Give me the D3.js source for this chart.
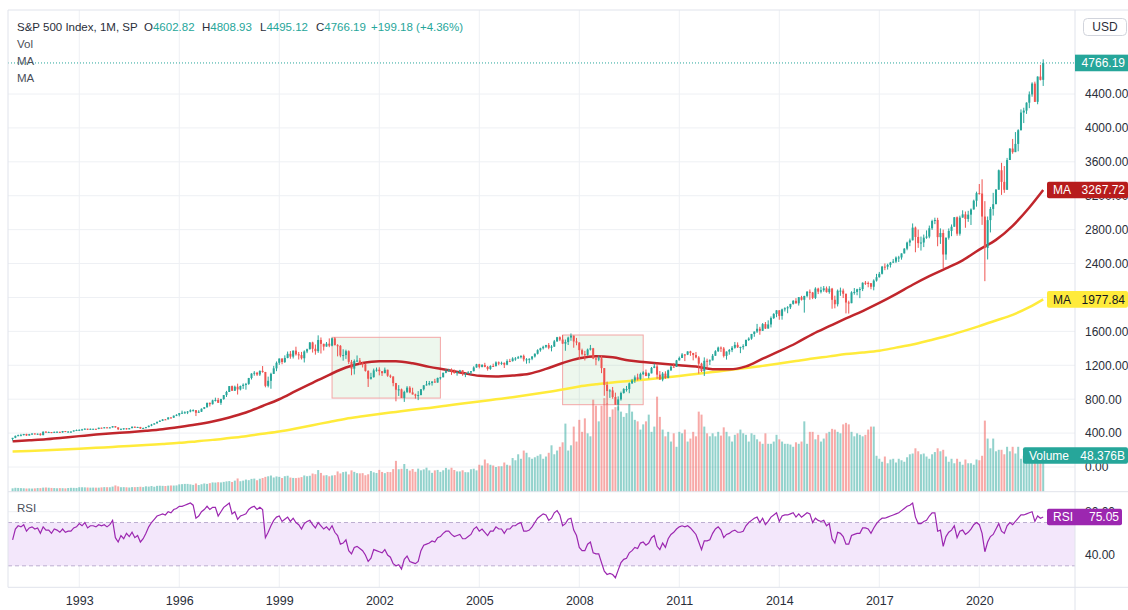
<!DOCTYPE html>
<html>
<head>
<meta charset="utf-8">
<script src="https://cdn.jsdelivr.net/npm/d3@7"></script>
<style>
  body { margin: 0; background: #fff; }
  svg { display: block; font-family: "Liberation Sans", Arial, sans-serif; }
</style>
</head>
<body>
<div id="root"></div>
<script>
// monthly S&P 500 candles, Jan 1991 .. Dec 2021 (open = previous close)
const startYear = 1991;
const firstOpen = 330.22;

const closes = [
  343.93, 367.07, 375.22, 375.34, 389.83, 371.16, 387.81, 395.43, 387.86, 392.46, 375.22, 417.09,
  408.79, 412.70, 403.69, 414.95, 415.35, 408.14, 424.21, 414.03, 417.80, 418.68, 431.35, 435.71,
  438.78, 443.38, 451.67, 440.19, 450.19, 450.53, 448.13, 463.56, 458.93, 467.83, 461.79, 466.45,
  481.61, 467.14, 445.77, 450.91, 456.50, 444.27, 458.26, 475.49, 462.69, 472.35, 453.69, 459.27,
  470.42, 487.39, 500.71, 514.71, 533.40, 544.75, 562.06, 561.88, 584.41, 581.50, 605.37, 615.93,
  636.02, 640.43, 645.50, 654.17, 669.12, 670.63, 639.95, 651.99, 687.31, 705.27, 757.02, 740.74,
  786.16, 790.82, 757.12, 801.34, 848.28, 885.14, 954.29, 899.47, 947.28, 914.62, 955.40, 970.43,
  980.28, 1049.34, 1101.75, 1111.75, 1090.82, 1133.84, 1120.67, 957.28, 1017.01, 1098.67, 1163.63, 1229.23,
  1279.64, 1238.33, 1286.37, 1335.18, 1301.84, 1372.71, 1328.72, 1320.41, 1282.71, 1362.93, 1388.91, 1469.25,
  1394.46, 1366.42, 1498.58, 1452.43, 1420.60, 1454.60, 1430.83, 1517.68, 1436.51, 1429.40, 1314.95, 1320.28,
  1366.01, 1239.94, 1160.33, 1249.46, 1255.82, 1224.42, 1211.23, 1133.58, 1040.94, 1059.78, 1139.45, 1148.08,
  1130.20, 1106.73, 1147.39, 1076.92, 1067.14, 989.82, 911.62, 916.07, 815.28, 885.76, 936.31, 879.82,
  855.70, 841.15, 848.18, 916.92, 963.59, 974.50, 990.31, 1008.01, 995.97, 1050.71, 1058.20, 1111.92,
  1131.13, 1144.94, 1126.21, 1107.30, 1120.68, 1140.84, 1101.72, 1104.24, 1114.58, 1130.20, 1173.82, 1211.92,
  1181.27, 1203.60, 1180.59, 1156.85, 1191.50, 1191.33, 1234.18, 1220.33, 1228.81, 1207.01, 1249.48, 1248.29,
  1280.08, 1280.66, 1294.83, 1310.61, 1270.09, 1270.20, 1276.66, 1303.82, 1335.85, 1377.94, 1400.63, 1418.30,
  1438.24, 1406.82, 1420.86, 1482.37, 1530.62, 1503.35, 1455.27, 1473.99, 1526.75, 1549.38, 1481.14, 1468.36,
  1378.55, 1330.63, 1322.70, 1385.59, 1400.38, 1280.00, 1267.38, 1282.83, 1166.36, 968.75, 896.24, 903.25,
  825.88, 735.09, 797.87, 872.81, 919.14, 919.32, 987.48, 1020.62, 1057.08, 1036.19, 1095.63, 1115.10,
  1073.87, 1104.49, 1169.43, 1186.69, 1089.41, 1030.71, 1101.60, 1049.33, 1141.20, 1183.26, 1180.55, 1257.64,
  1286.12, 1327.22, 1325.83, 1363.61, 1345.20, 1320.64, 1292.28, 1218.89, 1131.42, 1253.30, 1246.96, 1257.60,
  1312.41, 1365.68, 1408.47, 1397.91, 1310.33, 1362.16, 1379.32, 1406.58, 1440.67, 1412.16, 1416.18, 1426.19,
  1498.11, 1514.68, 1569.19, 1597.57, 1630.74, 1606.28, 1685.73, 1632.97, 1681.55, 1756.54, 1805.81, 1848.36,
  1782.59, 1859.45, 1872.34, 1883.95, 1923.57, 1960.23, 1930.67, 2003.37, 1972.29, 2018.05, 2067.56, 2058.90,
  1994.99, 2104.50, 2067.89, 2085.51, 2107.39, 2063.11, 2103.84, 1972.18, 1920.03, 2079.36, 2080.41, 2043.94,
  1940.24, 1932.23, 2059.74, 2065.30, 2096.95, 2098.86, 2173.60, 2170.95, 2168.27, 2126.15, 2198.81, 2238.83,
  2278.87, 2363.64, 2362.72, 2384.20, 2411.80, 2423.41, 2470.30, 2471.65, 2519.36, 2575.26, 2647.58, 2673.61,
  2823.81, 2713.83, 2640.87, 2648.05, 2705.27, 2718.37, 2816.29, 2901.52, 2913.98, 2711.74, 2760.17, 2506.85,
  2704.10, 2784.49, 2834.40, 2945.83, 2752.06, 2941.76, 2980.38, 2926.46, 2976.74, 3037.56, 3140.98, 3230.78,
  3225.52, 2954.22, 2584.59, 2912.43, 3044.31, 3100.29, 3271.12, 3500.31, 3363.00, 3269.96, 3621.63, 3756.07,
  3714.24, 3811.15, 3972.89, 4181.17, 4204.11, 4297.50, 4395.26, 4522.68, 4307.54, 4605.38, 4567.00, 4766.19
];

const highs = [
  344, 371, 382, 391, 390, 392, 391, 396, 397, 395, 398, 418,
  421, 418, 413, 417, 421, 416, 425, 425, 423, 419, 432, 442,
  443, 450, 456, 452, 454, 452, 451, 464, 464, 471, 469, 471,
  482, 482, 468, 452, 458, 459, 459, 477, 477, 474, 473, 465,
  473, 489, 508, 516, 534, 552, 564, 566, 587, 587, 607, 622,
  637, 665, 657, 660, 680, 680, 672, 670, 691, 707, 758, 761,
  794, 818, 815, 805, 849, 898, 955, 961, 960, 983, 961, 986,
  992, 1051, 1106, 1131, 1122, 1139, 1191, 1122, 1066, 1112, 1193, 1245,
  1280, 1281, 1317, 1362, 1368, 1375, 1419, 1357, 1358, 1376, 1396, 1474,
  1478, 1445, 1553, 1528, 1455, 1474, 1517, 1525, 1531, 1449, 1438, 1389,
  1384, 1376, 1263, 1269, 1316, 1286, 1239, 1218, 1141, 1111, 1161, 1173,
  1176, 1130, 1173, 1147, 1091, 1070, 992, 966, 925, 900, 954, 954,
  935, 865, 895, 919, 966, 1015, 1015, 1012, 1040, 1054, 1063, 1112,
  1155, 1159, 1163, 1150, 1127, 1146, 1141, 1109, 1131, 1132, 1188, 1217,
  1217, 1213, 1229, 1192, 1200, 1219, 1246, 1245, 1243, 1233, 1270, 1276,
  1295, 1297, 1310, 1318, 1326, 1284, 1282, 1307, 1340, 1389, 1407, 1431,
  1441, 1462, 1438, 1499, 1535, 1541, 1556, 1504, 1538, 1576, 1545, 1523,
  1471, 1396, 1370, 1397, 1440, 1405, 1292, 1314, 1313, 1167, 1008, 918,
  944, 877, 833, 889, 930, 956, 997, 1039, 1080, 1101, 1113, 1130,
  1150, 1113, 1180, 1220, 1219, 1132, 1120, 1129, 1149, 1196, 1227, 1263,
  1303, 1344, 1333, 1364, 1371, 1346, 1357, 1308, 1230, 1293, 1278, 1270,
  1333, 1378, 1420, 1422, 1415, 1363, 1392, 1427, 1475, 1470, 1419, 1448,
  1504, 1530, 1570, 1598, 1688, 1654, 1698, 1710, 1730, 1776, 1814, 1849,
  1850, 1868, 1884, 1897, 1925, 1968, 1992, 2005, 2019, 2019, 2075, 2094,
  2065, 2120, 2115, 2126, 2135, 2129, 2133, 2113, 2021, 2094, 2116, 2104,
  2038, 1962, 2073, 2111, 2103, 2121, 2178, 2194, 2188, 2169, 2214, 2278,
  2301, 2372, 2401, 2398, 2419, 2454, 2484, 2491, 2520, 2582, 2658, 2695,
  2873, 2836, 2801, 2718, 2742, 2791, 2848, 2917, 2941, 2940, 2815, 2800,
  2708, 2814, 2861, 2949, 2955, 2965, 3028, 3014, 3022, 3050, 3154, 3248,
  3338, 3394, 3136, 2955, 3068, 3234, 3279, 3509, 3588, 3550, 3646, 3761,
  3870, 3951, 3984, 4219, 4238, 4302, 4430, 4538, 4546, 4608, 4744, 4809
];

const lows = [
  312, 340, 363, 369, 373, 367, 371, 377, 383, 380, 371, 375,
  404, 406, 399, 401, 409, 401, 404, 412, 407, 402, 418, 427,
  426, 431, 440, 436, 438, 442, 441, 446, 455, 457, 458, 459,
  465, 464, 436, 435, 440, 442, 444, 457, 461, 460, 450, 448,
  457, 468, 481, 501, 513, 531, 542, 555, 561, 573, 579, 600,
  597, 628, 628, 624, 645, 655, 601, 639, 649, 683, 700, 714,
  737, 773, 756, 733, 793, 826, 891, 898, 899, 855, 903, 921,
  912, 969, 1032, 1077, 1074, 1074, 1112, 940, 939, 923, 1098, 1130,
  1205, 1212, 1227, 1282, 1277, 1280, 1314, 1268, 1268, 1233, 1343, 1387,
  1350, 1325, 1346, 1339, 1374, 1420, 1413, 1423, 1436, 1305, 1294, 1254,
  1275, 1215, 1082, 1092, 1240, 1203, 1174, 1125, 944, 1031, 1054, 1124,
  1081, 1074, 1107, 1064, 1049, 952, 775, 838, 815, 768, 872, 870,
  855, 807, 789, 847, 902, 960, 962, 960, 995, 995, 1031, 1058,
  1106, 1124, 1087, 1102, 1077, 1114, 1076, 1060, 1102, 1090, 1128, 1172,
  1163, 1175, 1176, 1137, 1146, 1188, 1184, 1201, 1205, 1168, 1201, 1245,
  1245, 1253, 1277, 1280, 1245, 1219, 1224, 1260, 1291, 1327, 1360, 1386,
  1403, 1389, 1364, 1416, 1476, 1485, 1454, 1371, 1439, 1489, 1407, 1436,
  1270, 1316, 1257, 1313, 1374, 1272, 1200, 1248, 1107, 840, 741, 815,
  805, 735, 667, 783, 865, 889, 870, 979, 992, 1020, 1029, 1086,
  1071, 1045, 1105, 1166, 1041, 1029, 1011, 1040, 1047, 1132, 1174, 1180,
  1257, 1294, 1249, 1320, 1311, 1258, 1282, 1101, 1120, 1074, 1158, 1203,
  1259, 1312, 1357, 1357, 1292, 1267, 1325, 1355, 1396, 1404, 1343, 1385,
  1426, 1486, 1501, 1536, 1581, 1560, 1605, 1628, 1634, 1646, 1746, 1767,
  1737, 1738, 1834, 1814, 1863, 1915, 1927, 1904, 1964, 1821, 2001, 1973,
  1980, 1981, 2040, 2048, 2067, 2057, 2044, 1867, 1872, 1894, 2019, 1993,
  1812, 1810, 1937, 2033, 2026, 1992, 2075, 2148, 2120, 2097, 2084, 2187,
  2234, 2271, 2322, 2329, 2353, 2406, 2407, 2418, 2446, 2520, 2557, 2605,
  2683, 2533, 2585, 2553, 2594, 2692, 2698, 2796, 2865, 2604, 2632, 2346,
  2444, 2682, 2723, 2848, 2728, 2729, 2952, 2822, 2892, 2855, 3051, 3071,
  3214, 2856, 2192, 2448, 2767, 2966, 3115, 3284, 3210, 3234, 3280, 3634,
  3695, 3726, 3724, 3970, 4057, 4165, 4233, 4368, 4306, 4279, 4560, 4495
];

// volume, billions
const volumes = [
  4.5, 5.2, 5.0, 4.8, 4.6, 4.3, 4.4, 4.2, 4.5, 4.9, 4.8, 5.4,
  5.6, 5.3, 5.0, 4.9, 4.6, 4.8, 4.7, 4.5, 4.9, 5.2, 5.1, 5.0,
  5.9, 5.9, 5.8, 5.6, 5.4, 5.5, 5.4, 5.4, 5.8, 6.1, 6.0, 5.9,
  6.8, 8.4, 7.1, 6.0, 6.1, 5.9, 5.6, 6.1, 6.1, 6.3, 6.6, 6.1,
  7.2, 6.8, 7.6, 6.6, 7.8, 8.0, 7.8, 7.6, 8.1, 8.3, 8.2, 8.4,
  9.8, 10.1, 10.4, 10.4, 9.8, 9.1, 11.0, 8.9, 10.0, 11.0, 10.4, 11.4,
  12.4, 12.2, 12.7, 12.4, 13.1, 13.8, 14.2, 13.0, 14.8, 17.7, 14.0, 14.8,
  16.2, 15.4, 17.1, 17.5, 15.3, 17.3, 18.3, 19.8, 20.6, 21.6, 19.0, 20.4,
  19.8, 18.3, 20.7, 21.3, 18.9, 18.4, 18.2, 18.7, 19.5, 21.7, 20.7, 21.3,
  24.3, 23.4, 28.9, 25.1, 21.7, 22.1, 20.6, 21.7, 22.1, 27.1, 24.4, 26.2,
  26.8, 23.1, 28.5, 26.5, 24.8, 24.5, 24.8, 22.0, 23.3, 27.7, 25.9, 25.0,
  29.1, 26.4, 24.8, 26.4, 26.2, 30.2, 41.2, 30.0, 30.6, 37.0, 30.5, 28.2,
  30.3, 26.6, 30.8, 28.6, 29.8, 32.1, 28.5, 25.2, 28.5, 29.1, 26.5, 28.6,
  31.8, 29.6, 32.0, 29.0, 27.1, 27.1, 28.6, 26.1, 26.0, 30.0, 30.7, 28.5,
  36, 35, 43, 38, 36, 35, 33, 34, 34, 39, 36, 35,
  45, 42, 50, 44, 55, 52, 46, 44, 46, 48, 50, 44,
  47, 52, 62, 50, 55, 60, 66, 91, 55, 62, 87, 67,
  96, 80, 98, 78, 74, 123, 115, 94, 115, 125, 118, 100,
  110, 113, 114, 107, 100, 105, 117, 107, 96, 94, 83, 90,
  94, 103, 80, 87, 127, 100, 83, 74, 80, 67, 78, 60,
  80, 78, 83, 67, 71, 80, 74, 107, 103, 87, 78, 74,
  78, 74, 80, 75, 86, 80, 74, 67, 76, 78, 83, 78,
  76, 67, 78, 76, 70, 67, 64, 78, 64, 64, 67, 76,
  70, 67, 64, 64, 63, 60, 66, 64, 67, 94, 64, 80,
  80, 70, 76, 67, 71, 78, 80, 84, 83, 80, 78, 90,
  92, 90, 80, 74, 78, 76, 74, 76, 83, 87, 87, 48,
  44, 40, 47, 38, 43, 44, 39, 44, 42, 40, 46, 50,
  51, 58, 54, 50, 51, 47, 44, 50, 53, 58, 54, 56,
  47, 40, 44, 38, 44, 40, 36, 43, 38, 38, 36, 43,
  42, 48, 95, 71, 58, 71, 54, 56, 56, 50, 60, 54,
  60, 51, 60, 44, 48, 50, 44, 43, 48, 47, 50, 48.376
];

const rsi = [
  54, 64, 67, 66, 68, 62, 65, 66, 64, 65, 60, 66,
  63, 63, 60, 64, 63, 61, 64, 61, 62, 62, 65, 66,
  69, 67, 70, 65, 67, 67, 66, 68, 67, 68, 66, 68,
  72, 56, 52, 58, 55, 60, 57, 61, 56, 58, 52, 55,
  60, 66, 70, 73, 76, 77, 78, 77, 80, 79, 82, 83,
  85, 85, 86, 87, 88, 86, 74, 76, 80, 82, 85, 82,
  84, 84, 76, 80, 84, 86, 88, 78, 80, 73, 76, 77,
  78, 82, 84, 85, 82, 84, 82, 56, 61, 67, 72, 75,
  76, 71, 73, 75, 71, 74, 70, 68, 64, 69, 71, 72,
  68, 65, 70, 67, 64, 66, 63, 67, 61, 58, 50, 51,
  54, 44, 41, 47, 48, 46, 44, 40, 34, 37, 45, 44,
  43, 42, 45, 40, 38, 32, 30, 31, 27, 36, 39, 34,
  33, 32, 34, 44, 49, 50, 51, 53, 52, 56, 57, 60,
  62, 62, 59, 57, 58, 59, 55, 55, 57, 59, 64, 66,
  62, 64, 61, 58, 62, 62, 66, 64, 64, 60, 64, 64,
  67, 67, 69, 70, 62, 62, 63, 66, 70, 74, 76, 78,
  77, 72, 74, 79, 81, 77, 67, 69, 73, 74, 63, 58,
  47, 44, 44, 50, 52, 42, 41, 41, 33, 25, 22, 23,
  22, 19, 26, 33, 36, 37, 42, 44, 47, 46, 51, 52,
  49, 51, 56, 58, 48, 45, 51, 47, 55, 59, 61, 64,
  66, 67, 66, 67, 65, 62, 59, 52, 45, 53, 53, 54,
  60, 64, 66, 63, 56, 59, 60, 62, 63, 61, 61, 62,
  67, 70, 72, 74, 75, 70, 74, 68, 71, 75, 77, 79,
  71, 76, 77, 77, 78, 79, 75, 78, 75, 77, 79, 78,
  70, 74, 72, 71, 72, 67, 69, 55, 51, 61, 60, 57,
  50, 50, 58, 59, 60, 60, 65, 65, 64, 60, 65, 69,
  72, 74, 74, 75, 76, 77, 78, 79, 81, 83, 85, 86,
  88, 75, 69, 69, 71, 72, 76, 79, 79, 62, 63, 48,
  57, 61, 63, 67, 56, 62, 63, 59, 61, 64, 68, 70,
  68, 60, 43, 52, 57, 59, 64, 69, 62, 60, 67, 70,
  68, 71, 74, 77, 77, 78, 79, 80, 71, 76, 74, 75.05
];

// moving averages, read in January and July of each year, plus Dec 2021
const maFast = [
  302.8, 314.8, 327.2, 345.7, 364.2, 382.1, 397.0, 410.6, 427.1, 446.3, 471.8, 500.8,
  537.0, 584.6, 642.9, 719.7, 799.3, 897.2, 992.8, 1088.0, 1173.5, 1225.8, 1247.8, 1247.7,
  1223.6, 1180.9, 1146.9, 1109.7, 1076.3, 1067.7, 1080.1, 1100.7, 1157.1, 1227.0, 1283.0, 1307.9,
  1293.4, 1255.5, 1236.9, 1216.8, 1199.5, 1185.0, 1153.7, 1152.4, 1187.2, 1278.2, 1366.0, 1459.8,
  1568.4, 1660.9, 1752.4, 1839.9, 1935.2, 2038.8, 2149.6, 2251.1, 2342.0, 2438.4, 2564.8, 2679.3,
  2845.1, 3061.5, 3267.72
];
const maSlow = [
  182, 190, 198, 207, 216, 226, 237, 248, 260, 272, 285, 302,
  320, 342, 364, 392, 420, 455, 493, 532, 570, 598, 625, 650,
  675, 697, 722, 748, 772, 798, 824, 852, 882, 914, 950, 975,
  998, 1015, 1033, 1052, 1073, 1097, 1120, 1143, 1167, 1193, 1220, 1250,
  1280, 1305, 1332, 1350, 1372, 1408, 1445, 1492, 1542, 1600, 1662, 1728,
  1795, 1885, 1977.84
];

const yearTicks = ["1993", "1996", "1999", "2002", "2005", "2008", "2011", "2014", "2017", "2020"];
const priceTicks = [0, 400, 800, 1200, 1600, 2000, 2400, 2800, 3200, 3600, 4000, 4400];
const rsiTicks = [80, 40];

// highlighted ranges: [from month, to month, top price, bottom price]
const boxes = [
  ["2000-08", "2003-11", 1530, 813],
  ["2007-07", "2009-12", 1557, 735]
];

const width = 1128;
const height = 610;
const pane = { left: 8, right: 1075, top: 10, mainBottom: 491.7, rsiBottom: 587.3 };
const up = "#26a69a";
const down = "#ef5350";

const monthIndex = (s) => (+s.slice(0, 4) - startYear) * 12 + (+s.slice(5, 7) - 1);
const maIdx = d3.range(startYear, 2022)
    .flatMap(yr => [(yr - startYear) * 12, (yr - startYear) * 12 + 6])
    .concat([closes.length - 1]);

const candles = closes.map((c, i) => {
    const o = i === 0 ? firstOpen : closes[i - 1];
    return { i, o, c, h: Math.max(highs[i], o, c), l: Math.min(lows[i], o, c), v: volumes[i] };
});

const x = d3.scaleLinear().domain([0, closes.length - 1]).range([12.6, 1043.2]);
const y = d3.scaleLinear().domain([0, 4400]).range([467, 94]);
const yVol = d3.scaleLinear().domain([0, 48.376]).range([pane.mainBottom, 455.5]);
const yRsi = d3.scaleLinear().domain([40, 80]).range([555, 511.7]);

const svg = d3.select("#root")
    .append("svg")
        .attr("width", width)
        .attr("height", height);

// grid
const grid = svg.append("g").attr("stroke", "#eef0f4").attr("stroke-width", 1);
grid.selectAll(".gx")
    .data(yearTicks)
    .enter().append("line")
        .attr("x1", d => x(monthIndex(d + "-01")))
        .attr("x2", d => x(monthIndex(d + "-01")))
        .attr("y1", pane.top)
        .attr("y2", pane.rsiBottom);
grid.selectAll(".gy")
    .data(priceTicks)
    .enter().append("line")
        .attr("x1", pane.left)
        .attr("x2", pane.right)
        .attr("y1", d => y(d))
        .attr("y2", d => y(d));
grid.selectAll(".gr")
    .data(rsiTicks)
    .enter().append("line")
        .attr("x1", pane.left)
        .attr("x2", pane.right)
        .attr("y1", d => yRsi(d))
        .attr("y2", d => yRsi(d));

// boxes
svg.append("g")
    .selectAll("rect")
    .data(boxes)
    .enter().append("rect")
        .attr("x", d => x(monthIndex(d[0])))
        .attr("y", d => y(d[2]))
        .attr("width", d => x(monthIndex(d[1])) - x(monthIndex(d[0])))
        .attr("height", d => y(d[3]) - y(d[2]))
        .attr("fill", "rgba(76,175,80,0.1)")
        .attr("stroke", "#f3a6a6")
        .attr("stroke-width", 1);

// volume
svg.append("g")
    .selectAll("rect")
    .data(candles)
    .enter().append("rect")
        .attr("x", d => x(d.i) - 1)
        .attr("width", 2)
        .attr("y", d => yVol(d.v))
        .attr("height", d => yVol(0) - yVol(d.v))
        .attr("fill", d => d.c >= d.o ? "rgba(38,166,154,0.5)" : "rgba(239,83,80,0.5)");

// moving averages
const maLine = (idx) => d3.line()
    .x((d, k) => x(idx[k]))
    .y(d => y(d))
    .curve(d3.curveMonotoneX);

svg.append("path")
    .datum(maSlow)
    .attr("fill", "none")
    .attr("stroke", "#ffeb3b")
    .attr("stroke-width", 2.5)
    .attr("d", maLine(maIdx));

svg.append("path")
    .datum(maFast)
    .attr("fill", "none")
    .attr("stroke", "#c0262c")
    .attr("stroke-width", 2.5)
    .attr("d", maLine(maIdx));

// candles
const candle = svg.append("g")
    .selectAll("g")
    .data(candles)
    .enter().append("g")
        .attr("fill", d => d.c >= d.o ? up : down)
        .attr("stroke", d => d.c >= d.o ? up : down);

candle.append("line")
    .attr("x1", d => x(d.i))
    .attr("x2", d => x(d.i))
    .attr("y1", d => y(d.h))
    .attr("y2", d => y(d.l))
    .attr("stroke-width", 1);

candle.append("rect")
    .attr("stroke", "none")
    .attr("x", d => x(d.i) - 1)
    .attr("width", 2)
    .attr("y", d => y(Math.max(d.o, d.c)))
    .attr("height", d => Math.max(1, Math.abs(y(d.o) - y(d.c))));

// last price line
const last = candles[candles.length - 1];
svg.append("line")
    .attr("x1", pane.left)
    .attr("x2", pane.right)
    .attr("y1", y(last.c))
    .attr("y2", y(last.c))
    .attr("stroke", up)
    .attr("stroke-dasharray", "1,2");

// RSI pane
svg.append("rect")
    .attr("x", pane.left)
    .attr("width", pane.right - pane.left)
    .attr("y", yRsi(70))
    .attr("height", yRsi(30) - yRsi(70))
    .attr("fill", "#f3e7fb");

svg.selectAll(".band")
    .data([70, 30])
    .enter().append("line")
        .attr("x1", pane.left)
        .attr("x2", pane.right)
        .attr("y1", d => yRsi(d))
        .attr("y2", d => yRsi(d))
        .attr("stroke", "#bcaed0")
        .attr("stroke-dasharray", "4,3");

svg.append("path")
    .datum(rsi)
    .attr("fill", "none")
    .attr("stroke", "#9c27b0")
    .attr("stroke-width", 1.2)
    .attr("d", d3.line().x((d, i) => x(i)).y(d => yRsi(d)));

// frame
const frame = svg.append("g").attr("stroke", "#e0e3eb").attr("stroke-width", 1);
frame.append("line").attr("x1", pane.left).attr("x2", width).attr("y1", pane.top).attr("y2", pane.top);
frame.append("line").attr("x1", pane.left).attr("x2", pane.left).attr("y1", pane.top).attr("y2", pane.rsiBottom);
frame.append("line").attr("x1", pane.right).attr("x2", pane.right).attr("y1", pane.top).attr("y2", height);
frame.append("line").attr("x1", pane.left).attr("x2", width).attr("y1", pane.mainBottom).attr("y2", pane.mainBottom);
frame.append("line").attr("x1", pane.left).attr("x2", width).attr("y1", pane.rsiBottom).attr("y2", pane.rsiBottom);

// axes; a scale label sitting right under a value tag is hidden, as on the original
const slowLast = maSlow[maSlow.length - 1];
const fastLast = maFast[maFast.length - 1];
const tagValues = [last.c, fastLast, slowLast];
const shownPriceTicks = priceTicks.filter(t => tagValues.every(v => Math.abs(y(t) - y(v)) > 4));

const styleAxis = (g) => {
    g.select(".domain").remove();
    g.selectAll("text").attr("fill", "#2a2e39").style("font-size", "12px")
        .style("font-family", "'Liberation Sans', Arial, sans-serif");
};

svg.append("g")
    .attr("transform", `translate(${pane.right},0)`)
    .call(d3.axisRight(y).tickValues(shownPriceTicks).tickFormat(d3.format(".2f")).tickSize(0).tickPadding(10))
    .call(styleAxis);

svg.append("g")
    .attr("transform", `translate(${pane.right},0)`)
    .call(d3.axisRight(yRsi).tickValues(rsiTicks).tickFormat(d3.format(".2f")).tickSize(0).tickPadding(10))
    .call(styleAxis);

svg.append("g")
    .attr("transform", `translate(0,${pane.rsiBottom})`)
    .call(d3.axisBottom(x)
        .tickValues(yearTicks.map(d => monthIndex(d + "-01")))
        .tickFormat(i => String(startYear + Math.round(i / 12)))
        .tickSize(0).tickPadding(9))
    .call(styleAxis)
    .selectAll("text").style("font-size", "12.5px");

// value labels on the price scale
const tag = (yc, x0, x1, bg, fg, left, right, r) => {
    const g = svg.append("g");
    g.append("rect")
        .attr("x", x0).attr("width", x1 - x0)
        .attr("y", yc - 8.3).attr("height", 16.6)
        .attr("rx", r).attr("fill", bg);
    if (left) {
        g.append("text").attr("x", x0 + 6).attr("y", yc).attr("dy", "0.35em")
            .attr("fill", fg).style("font-size", "12px").text(left);
    }
    g.append("text").attr("x", x1 - 3).attr("y", yc).attr("dy", "0.35em")
        .attr("text-anchor", "end")
        .attr("fill", fg).style("font-size", "12px").text(right);
};

tag(y(last.c), pane.right, width, up, "#fff", null, d3.format(".2f")(last.c), 0);
tag(y(fastLast), 1047, width, "#b71c1c", "#fff", "MA", d3.format(".2f")(fastLast), 2);
tag(y(slowLast), 1047, width, "#ffeb3b", "#131722", "MA", d3.format(".2f")(slowLast), 2);
tag(yVol(last.v), 1023, width, up, "#fff", "Volume", d3.format(".3f")(last.v) + "B", 2);
tag(yRsi(rsi[rsi.length - 1]), 1047, 1122, "#9c27b0", "#fff", "RSI", d3.format(".2f")(rsi[rsi.length - 1]), 2);

// currency button
svg.append("rect")
    .attr("x", 1083.5).attr("y", 18.5).attr("width", 43).attr("height", 17)
    .attr("rx", 4).attr("fill", "#fff").attr("stroke", "#d1d4dc");
svg.append("text")
    .attr("x", 1105).attr("y", 27).attr("dy", "0.35em").attr("text-anchor", "middle")
    .attr("fill", "#2a2e39").style("font-size", "12px").text("USD");

// legend
const legend = svg.append("g").style("font-size", "11.5px");
legend.append("text").attr("x", 17).attr("y", 31).attr("fill", "#2a2e39").text("S&P 500 Index, 1M, SP");

const ohlc = [["O", "4602.82", 144], ["H", "4808.93", 202], ["L", "4495.12", 260], ["C", "4766.19", 316]];
ohlc.forEach(([k, v, px]) => {
    const t = legend.append("text").attr("x", px).attr("y", 31);
    t.append("tspan").attr("fill", "#2a2e39").text(k);
    t.append("tspan").attr("fill", up).text(v);
});
legend.append("text").attr("x", 371).attr("y", 31).attr("fill", up).text("+199.18 (+4.36%)");

legend.selectAll(".sub")
    .data([["Vol", 47.5], ["MA", 65], ["MA", 81.5]])
    .enter().append("text")
        .attr("x", 17)
        .attr("y", d => d[1])
        .attr("fill", "#4a4e59")
        .text(d => d[0]);

svg.append("text")
    .attr("x", 17).attr("y", 512)
    .attr("fill", "#4a4e59").style("font-size", "11.5px")
    .text("RSI");
</script>
</body>
</html>
